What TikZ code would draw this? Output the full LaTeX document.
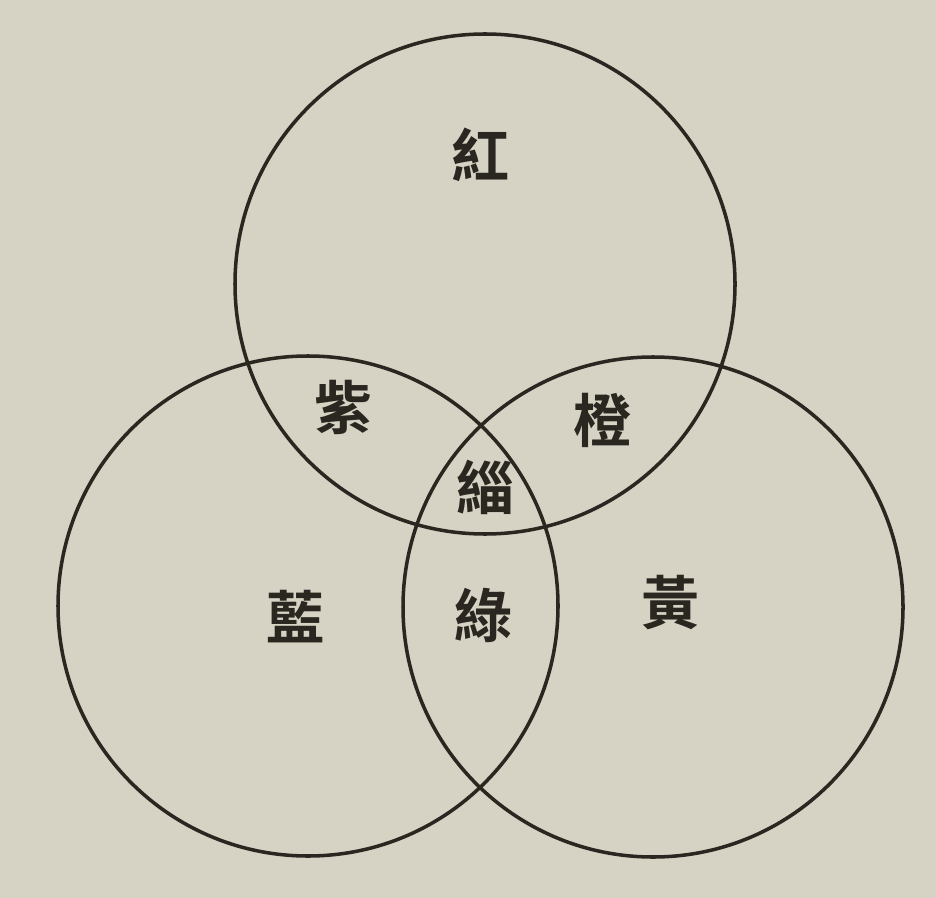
\documentclass[tikz,border=0pt]{standalone}
\usepackage{fontspec}
\newfontfamily\cjk{Noto Sans CJK TC}[BoldFont={* Bold}]
\definecolor{paper}{HTML}{D6D3C5}
\definecolor{ink}{HTML}{2A2620}
\begin{document}
\begin{tikzpicture}[x=0.02cm,y=-0.02cm,
  ring/.style={draw=ink,line width=2pt},
  lbl/.style={text=ink,font=\cjk\bfseries\fontsize{33}{33}\selectfont,inner sep=0pt}]
\fill[paper] (0,0) rectangle (936,898);
\useasboundingbox (0,0) rectangle (936,898);
\draw[ring] (485,284) circle[radius=250];
\draw[ring] (308,606) circle[radius=250];
\draw[ring] (653,607) circle[radius=250];
\node[lbl] (red) at (480,155) {紅};
\node[lbl] (purple) at (343,407) {紫};
\node[lbl] (orange) at (602,420) {橙};
\node[lbl] (black) at (485,487) {緇};
\node[lbl] (blue) at (295,617) {藍};
\node[lbl] (green) at (483,615) {綠};
\node[lbl] (yellow) at (670,603) {黃};
\end{tikzpicture}
\end{document}
